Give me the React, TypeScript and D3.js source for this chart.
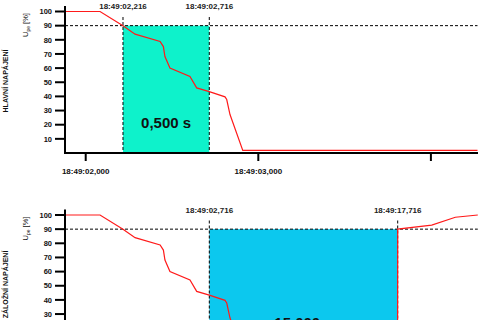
import React from "react";
import * as d3 from "d3";

// ---- data ----
const yTicks = [10, 20, 30, 40, 50, 60, 70, 80, 90, 100];
const threshold = 90;

// top panel (main supply): time in seconds after 18:49:00
const mainT = [1.88, 2.083, 2.216, 2.286, 2.431, 2.45, 2.459, 2.488, 2.604, 2.643, 2.716, 2.807, 2.817, 2.836, 2.91, 4.27];
const mainV = [100, 100, 90, 84, 78.8, 75.2, 68.2, 60.1, 54.1, 46.0, 43.4, 39.7, 37.8, 27.2, 1.8, 1.8];
const mainTicks = [2.0, 3.0, 4.0];
const mainTickLabels = ["18:49:02,000", "18:49:03,000", ""];
const mainMarks = [2.216, 2.716];
const mainMarkLabels = ["18:49:02,216", "18:49:02,716"];
const mainDuration = "0,500 s";

// bottom panel (backup supply)
const backT = [1.88, 2.083, 2.216, 2.286, 2.431, 2.45, 2.459, 2.488, 2.604, 2.643, 2.716, 2.807, 2.817, 2.836, 2.91, 17.7, 17.716, 17.913, 18.05, 18.18];
const backV = [100, 100, 90, 84, 78.8, 75.2, 68.2, 60.1, 54.1, 46.0, 43.4, 39.7, 37.8, 27.2, 1.8, 1.8, 90, 92.9, 98.4, 100];
const backMarks = [2.716, 17.716];
const backMarkLabels = ["18:49:02,716", "18:49:17,716"];
const backDuration = "15,000 s";

const FONT = "Liberation Sans, Arial, sans-serif";

type PanelProps = {
  off: number;
  xScale: d3.ScaleLinear<number, number>;
  t: number[];
  v: number[];
  marks: number[];
  markLabels: string[];
  duration: string;
  durationV: number;
  fill: string;
  title: string;
  ticks?: number[];
  tickLabels?: string[];
};

function Panel(p: PanelProps) {
  const y = d3.scaleLinear().domain([0, 100]).range([153 + p.off, 11.5 + p.off]);
  const x = p.xScale;
  const [x0, x1] = x.range().length ? [x.range()[0], x.range()[x.range().length - 1]] : [65, 478];
  const pts: [number, number][] = p.t.map((tt, i) => [tt, p.v[i]]);
  const line = d3
    .line<[number, number]>()
    .x((d) => x(d[0]))
    .y((d) => y(d[1]));
  const ma = x(p.marks[0]);
  const mb = x(p.marks[1]);
  return (
    <g>
      <rect x={ma} y={y(threshold)} width={mb - ma} height={y(0) - y(threshold)} fill={p.fill} />
      <line x1={x0} x2={x1} y1={y(threshold)} y2={y(threshold)} stroke="#000" strokeWidth={1} strokeDasharray="3,2" />
      {p.marks.map((m, i) => (
        <g key={i}>
          <line x1={x(m)} x2={x(m)} y1={p.off + 17} y2={y(0)} stroke="#000" strokeWidth={1} strokeDasharray="3,2" />
          <text x={x(m)} y={p.off + 9} textAnchor="middle" fontSize={8} fontWeight="bold" fontFamily={FONT} fill="#222">
            {p.markLabels[i]}
          </text>
        </g>
      ))}
      <path d={line(pts) || ""} fill="none" stroke="#ff1a1a" strokeWidth={1.2} />
      <text x={(ma + mb) / 2} y={y(p.durationV)} textAnchor="middle" fontSize={15} fontWeight="bold" fontFamily={FONT} fill="#111">
        {p.duration}
      </text>
      {/* y axis */}
      <line x1={65} x2={65} y1={p.off + 6} y2={y(0) + 1} stroke="#000" strokeWidth={2} />
      {yTicks.map((tk) => (
        <g key={tk}>
          <line x1={55} x2={65} y1={y(tk)} y2={y(tk)} stroke="#000" strokeWidth={2} />
          <text x={52} y={y(tk) + 2.7} textAnchor="end" fontSize={7.5} fontWeight="bold" fontFamily={FONT} fill="#111">
            {tk}
          </text>
        </g>
      ))}
      {/* x axis */}
      <line x1={64} x2={478} y1={y(0)} y2={y(0)} stroke="#000" strokeWidth={2} />
      {(p.ticks || []).map((tk, i) => (
        <g key={i}>
          <line x1={x(tk)} x2={x(tk)} y1={y(0)} y2={y(0) + 8} stroke="#000" strokeWidth={2} />
          <text x={x(tk)} y={y(0) + 20.5} textAnchor="middle" fontSize={8} fontWeight="bold" fontFamily={FONT} fill="#111">
            {(p.tickLabels || [])[i]}
          </text>
        </g>
      ))}
      {/* titles */}
      <text transform={`translate(27.5,${p.off + 25}) rotate(-90)`} textAnchor="middle" fontSize={7.5} fontFamily={FONT} fill="#111">
        U
        <tspan fontSize={5} dy={2}>pe</tspan>
        <tspan dy={-2}> [%]</tspan>
      </text>
      <text transform={`translate(8,${p.off + 81}) rotate(-90)`} textAnchor="middle" fontSize={7} fontWeight="bold" fontFamily={FONT} fill="#111">
        {p.title}
      </text>
    </g>
  );
}

export default function App() {
  const xTop = d3.scaleLinear().domain([1.88, 4.27]).range([65, 477.5]);
  const xBottom = d3.scaleLinear().domain([1.88, 2.95, 17.716, 18.18]).range([65, 249.7, 397.7, 477.8]);
  return (
    <svg width={480} height={320} style={{ position: "absolute", left: 0, top: 0, background: "#fff" }}>
      <rect width={480} height={320} fill="#fff" />
      <Panel
        off={0}
        xScale={xTop}
        t={mainT}
        v={mainV}
        marks={mainMarks}
        markLabels={mainMarkLabels}
        duration={mainDuration}
        durationV={17.5}
        fill="#0ef2cb"
        title="HLAVNÍ NAPÁJENÍ"
        ticks={mainTicks}
        tickLabels={mainTickLabels}
      />
      <Panel
        off={203.5}
        xScale={xBottom}
        t={backT}
        v={backV}
        marks={backMarks}
        markLabels={backMarkLabels}
        duration={backDuration}
        durationV={20}
        fill="#0cc8ee"
        title="ZÁLOŽNÍ NAPÁJENÍ"
      />
    </svg>
  );
}
